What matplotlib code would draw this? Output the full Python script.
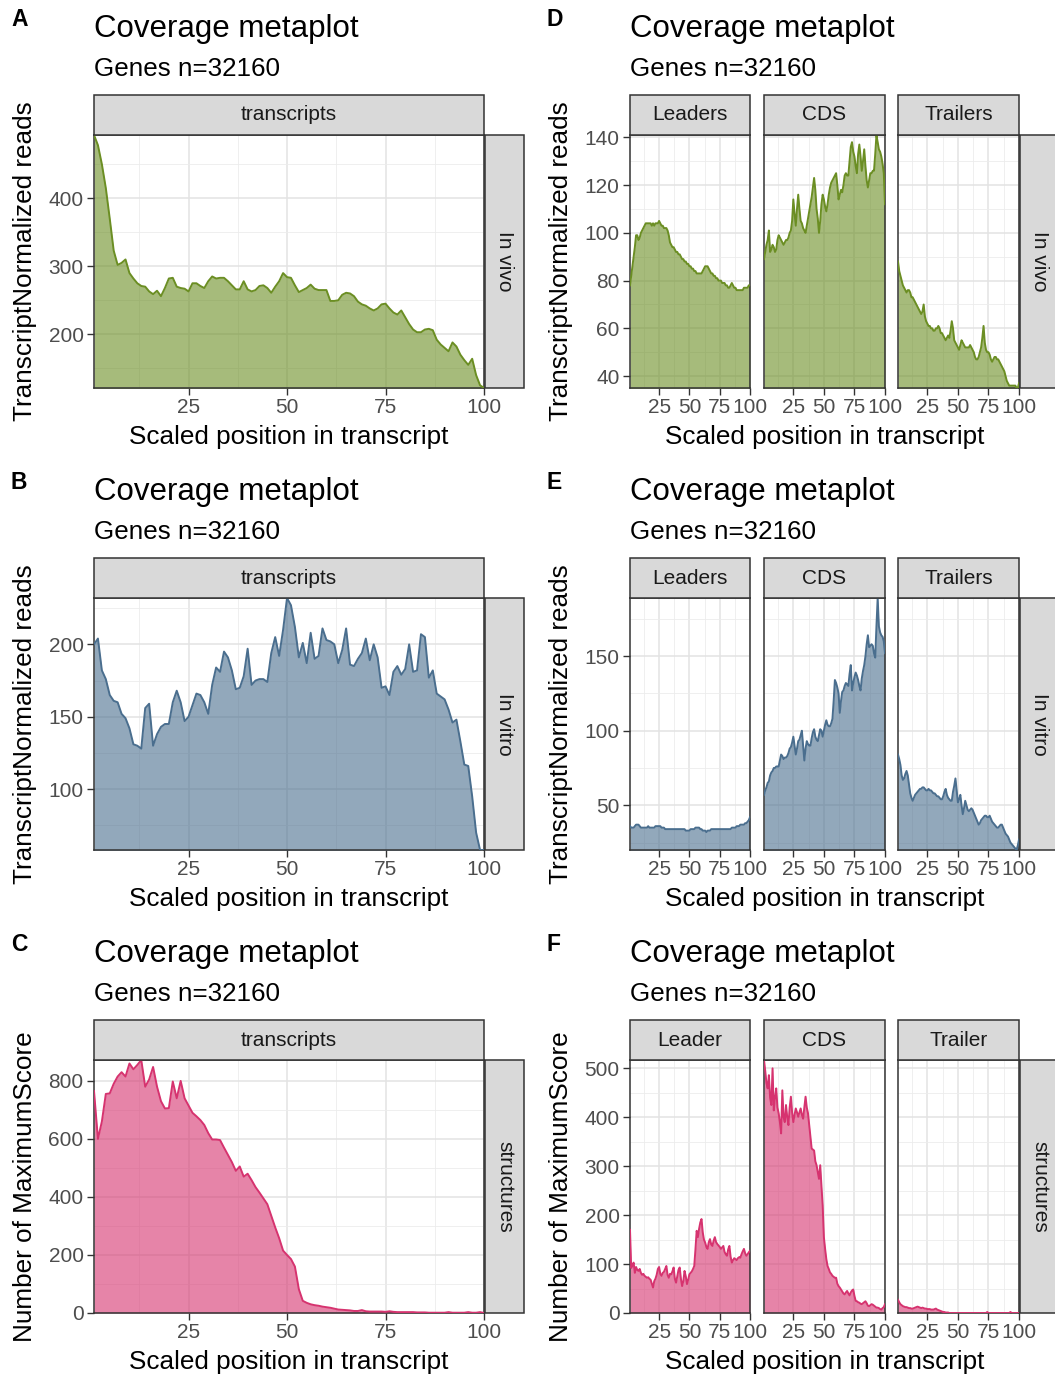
import matplotlib
matplotlib.use("Agg")
import matplotlib.pyplot as plt
from matplotlib.patches import Rectangle

plt.rcParams['font.family'] = ['Liberation Sans', 'DejaVu Sans']

# ---------------------------------------------------------------- data
positions = list(range(1, 101))

a_invivo_transcripts = [
    493, 478, 450, 415, 370, 323, 302, 305, 310, 290,
    282, 275, 271, 270, 263, 259, 264, 256, 268, 282,
    283, 270, 268, 267, 263, 275, 275, 271, 268, 278,
    285, 282, 283, 283, 278, 272, 266, 266, 278, 266,
    263, 265, 271, 272, 268, 261, 270, 278, 290, 284,
    283, 272, 262, 265, 268, 273, 267, 265, 265, 265,
    249, 249, 250, 258, 261, 260, 256, 248, 244, 242,
    238, 235, 238, 244, 245, 238, 232, 229, 235, 225,
    215, 207, 203, 203, 207, 208, 206, 192, 185, 180,
    175, 188, 182, 170, 162, 155, 164, 140, 125, 121]

b_invitro_transcripts = [
    200, 204, 182, 176, 165, 161, 160, 152, 149, 142,
    131, 130, 128, 156, 159, 130, 138, 143, 145, 145,
    160, 168, 160, 147, 150, 158, 166, 165, 160, 152,
    172, 184, 181, 195, 191, 182, 169, 170, 178, 197,
    172, 175, 176, 176, 174, 194, 205, 192, 210, 232,
    227, 212, 191, 201, 187, 208, 190, 192, 211, 203,
    202, 200, 187, 196, 211, 186, 185, 190, 194, 204,
    189, 200, 191, 170, 171, 165, 181, 185, 179, 183,
    200, 181, 182, 207, 205, 177, 182, 166, 164, 162,
    155, 146, 148, 133, 117, 116, 95, 70, 58, 58]

c_structures_transcripts = [
    765, 600, 660, 755, 757, 790, 815, 830, 815, 860,
    840, 855, 872, 780, 805, 848, 780, 730, 705, 706,
    798, 740, 800, 740, 715, 690, 678, 665, 648, 620,
    598, 598, 596, 570, 545, 520, 490, 505, 470, 480,
    458, 434, 415, 395, 375, 335, 295, 258, 215, 200,
    186, 160, 82, 42, 35, 30, 27, 25, 22, 20,
    18, 15, 12, 11, 10, 9, 7, 7, 10, 6,
    5, 5, 5, 5, 4, 6, 4, 3, 3, 3,
    3, 3, 2, 2, 2, 1, 1, 1, 1, 1,
    3, 1, 1, 1, 1, 3, 1, 1, 3, 0]

d_invivo_leaders = [
    78, 82, 86, 90, 94, 99, 99, 97, 98, 100,
    101, 102, 103, 104, 104, 104, 104, 104, 103, 104,
    103, 104, 104, 104, 105, 104, 103, 103, 102, 102,
    102, 101, 99, 96, 95, 94, 94, 93, 92, 92,
    91, 91, 90, 89, 89, 88, 88, 87, 87, 86,
    86, 85, 85, 84, 84, 83, 83, 83, 83, 83,
    84, 85, 86, 86, 86, 85, 84, 83, 83, 82,
    82, 81, 81, 80, 80, 80, 79, 79, 79, 78,
    78, 77, 77, 78, 79, 78, 77, 77, 76, 76,
    76, 76, 76, 76, 77, 77, 77, 77, 78, 78]

d_invivo_cds = [
    89, 92, 95, 97, 101, 92, 93, 95, 94, 92,
    93, 97, 99, 98, 97, 96, 95, 96, 97, 97,
    98, 100, 101, 105, 114, 108, 103, 110, 116, 110,
    105, 104, 102, 101, 100, 103, 106, 109, 112, 115,
    119, 123, 118, 110, 106, 100, 105, 112, 116, 114,
    111, 109, 112, 116, 119, 121, 122, 123, 124, 125,
    120, 114, 116, 118, 117, 120, 124, 125, 124, 124,
    130, 136, 138, 134, 132, 128, 125, 133, 137, 132,
    126, 130, 135, 128, 122, 119, 122, 125, 125, 126,
    126, 133, 141, 138, 135, 134, 132, 129, 125, 112]

d_invivo_trailers = [
    88, 84, 82, 80, 78, 77, 76, 75, 76, 76,
    75, 73, 73, 72, 71, 70, 69, 68, 67, 66,
    67, 70, 65, 63, 62, 61, 61, 60, 60, 59,
    59, 60, 60, 61, 60, 58, 58, 57, 56, 55,
    56, 57, 56, 59, 63, 60, 55, 54, 53, 52,
    51, 53, 55, 54, 53, 52, 52, 52, 52, 53,
    52, 51, 50, 48, 47, 47, 48, 50, 52, 56,
    61, 54, 51, 50, 50, 49, 47, 46, 47, 48,
    48, 47, 47, 46, 45, 44, 43, 42, 40, 38,
    37, 36, 36, 36, 36, 36, 36, 35, 35, 37]

e_invitro_leaders = [
    36, 35, 35, 35, 36, 37, 37, 37, 36, 35,
    35, 35, 35, 35, 35, 36, 35, 35, 35, 35,
    35, 36, 36, 36, 36, 36, 35, 35, 35, 34,
    34, 34, 34, 34, 34, 34, 34, 34, 34, 34,
    34, 34, 34, 34, 34, 34, 33, 33, 33, 33,
    34, 34, 34, 34, 35, 35, 35, 35, 34, 34,
    33, 33, 33, 32, 33, 33, 33, 34, 34, 34,
    34, 34, 34, 34, 34, 34, 34, 34, 34, 34,
    34, 34, 34, 34, 35, 35, 35, 35, 36, 36,
    36, 37, 37, 37, 37, 38, 38, 39, 40, 42]

e_invitro_cds = [
    57, 60, 62, 65, 66, 70, 72, 73, 75, 75,
    76, 76, 76, 80, 84, 83, 81, 82, 82, 83,
    85, 88, 89, 92, 96, 90, 84, 88, 93, 94,
    97, 100, 90, 80, 88, 93, 91, 90, 90, 95,
    99, 101, 96, 94, 93, 97, 101, 100, 96, 100,
    104, 107, 104, 103, 103, 105, 108, 120, 134, 132,
    129, 125, 112, 120, 126, 127, 130, 132, 131, 130,
    138, 144, 127, 132, 136, 139, 137, 134, 130, 127,
    135, 140, 144, 150, 158, 164, 156, 157, 158, 157,
    152, 149, 170, 189, 170, 166, 164, 163, 160, 152]

e_invitro_trailers = [
    84, 81, 77, 70, 67, 68, 71, 73, 70, 64,
    58, 55, 53, 55, 57, 58, 59, 60, 61, 61,
    62, 62, 61, 60, 60, 61, 60, 60, 59, 58,
    58, 57, 56, 56, 55, 54, 54, 56, 59, 61,
    57, 55, 54, 53, 53, 59, 63, 68, 60, 52,
    54, 57, 50, 44, 48, 53, 50, 47, 46, 47,
    48, 47, 45, 43, 41, 39, 37, 38, 40, 41,
    42, 43, 43, 42, 42, 43, 41, 39, 38, 37,
    36, 35, 35, 36, 37, 37, 35, 33, 31, 30,
    29, 27, 25, 24, 23, 22, 21, 20, 23, 27]

f_structures_leader = [
    170, 92, 98, 103, 82, 94, 88, 86, 90, 82,
    78, 80, 76, 74, 72, 73, 70, 68, 60, 52,
    65, 70, 78, 90, 94, 80, 76, 82, 84, 90,
    96, 78, 72, 80, 79, 85, 93, 70, 62, 75,
    88, 93, 70, 55, 65, 86, 75, 59, 68, 79,
    82, 85, 90, 96, 130, 168, 155, 172, 185, 192,
    165, 150, 144, 135, 131, 145, 151, 140, 137, 148,
    155, 145, 141, 138, 135, 131, 134, 137, 125, 120,
    117, 130, 137, 115, 103, 108, 112, 110, 108, 112,
    114, 113, 120, 126, 131, 122, 117, 120, 124, 127]

f_structures_cds = [
    517, 495, 470, 459, 486, 440, 425, 500, 414, 440,
    459, 420, 408, 390, 367, 455, 400, 390, 425, 400,
    384, 420, 442, 410, 390, 405, 418, 410, 401, 410,
    418, 405, 397, 420, 442, 420, 408, 384, 360, 336,
    334, 332, 310, 302, 288, 274, 302, 260, 220, 155,
    131, 110, 96, 90, 83, 80, 76, 74, 72, 72,
    60, 55, 52, 48, 44, 40, 38, 42, 45, 40,
    36, 42, 46, 48, 35, 25, 24, 22, 21, 19,
    18, 20, 22, 24, 20, 15, 14, 16, 18, 17,
    15, 13, 11, 11, 10, 8, 7, 10, 12, 18]

f_structures_trailer = [
    27, 22, 18, 16, 14, 13, 12, 12, 11, 10,
    10, 9, 9, 10, 11, 12, 13, 12, 11, 10,
    11, 10, 9, 9, 8, 8, 8, 7, 7, 7,
    8, 9, 7, 6, 5, 4, 3, 2, 2, 1,
    1, 1, 0, 0, 0, 0, 0, 0, 0, 0,
    0, 0, 0, 0, 0, 0, 0, 0, 0, 0,
    0, 0, 0, 0, 0, 0, 0, 0, 0, 0,
    0, 0, 0, 2, 0, 0, 0, 0, 0, 0,
    0, 0, 0, 0, 0, 0, 0, 0, 0, 0,
    0, 0, 2, 0, 0, 0, 0, 0, 0, 0]

x_ticks = [25, 50, 75, 100]
title_text = "Coverage metaplot"
subtitle_text = "Genes n=32160"
x_title = "Scaled position in transcript"

GREEN = "#6B8E23"
BLUE = "#4A6E8E"
PINK = "#D6336F"

# ---------------------------------------------------------------- layout
W, H = 1055, 1376
fig = plt.figure(figsize=(W / 100, H / 100), dpi=100)

DARK = "#333333"
STRIP_FILL = "#d9d9d9"
TICK_TXT = "#4d4d4d"


def fx(x):
    return x / W


def fy(y):
    return 1 - y / H


def add_box(x0, y0, x1, y1):
    fig.add_artist(Rectangle((fx(x0), fy(y1)), (x1 - x0) / W, (y1 - y0) / H,
                             transform=fig.transFigure, facecolor=STRIP_FILL,
                             edgecolor=DARK, lw=1.1, zorder=1))


def minor_between(ticks, lo, hi):
    step = ticks[1] - ticks[0]
    cand = [ticks[0] - step / 2] + [t + step / 2 for t in ticks]
    return [m for m in cand if lo <= m <= hi]


def draw_panel(letter, col_left, facet_boxes, facet_names, series, color,
               row_label, yticks, ylabel, plot_top, plot_bot):
    lo = min(min(s) for s in series)
    hi = max(max(s) for s in series)
    strip_top = plot_top - 40
    x_first = facet_boxes[0][0]
    x_last = facet_boxes[-1][1]

    for i, ((x0, x1), name, s) in enumerate(zip(facet_boxes, facet_names, series)):
        ax = fig.add_axes([fx(x0), fy(plot_bot), (x1 - x0) / W, (plot_bot - plot_top) / H])
        ax.fill_between(positions, s, 0, color=color, alpha=0.6, lw=0, zorder=2)
        ax.plot(positions, s, color=color, lw=1.4, zorder=3)
        ax.set_xlim(1, 100)
        ax.set_ylim(lo, hi)
        ax.set_xticks(x_ticks)
        ax.set_xticks([12.5, 37.5, 62.5, 87.5], minor=True)
        ax.set_yticks(yticks)
        ax.set_yticks(minor_between(yticks, lo, hi), minor=True)
        ax.grid(True, which='major', color='#e3e3e3', lw=1.1)
        ax.grid(True, which='minor', color='#ececec', lw=0.6)
        ax.set_axisbelow(True)
        ax.tick_params(which='minor', length=0)
        ax.tick_params(which='major', length=5, width=1.0, color=DARK,
                       labelcolor=TICK_TXT, labelsize=15, pad=2.5)
        if i > 0:
            ax.tick_params(axis='y', which='major', length=0, labelleft=False)
        for sp in ax.spines.values():
            sp.set_color(DARK)
            sp.set_linewidth(1.1)
        # facet strip on top
        add_box(x0, strip_top, x1, plot_top)
        fig.text(fx((x0 + x1) / 2), fy((strip_top + plot_top) / 2), name,
                 ha='center', va='center', fontsize=15, color='#1a1a1a')

    # row strip on the right
    add_box(x_last + 1, plot_top, x_last + 40, plot_bot)
    fig.text(fx(x_last + 20.5), fy((plot_top + plot_bot) / 2), row_label,
             ha='center', va='center', rotation=-90, fontsize=15, color='#1a1a1a')

    # titles
    fig.text(fx(col_left + 11), fy(plot_top - 109), letter, ha='left',
             va='baseline', fontsize=16.5, fontweight='bold', color='black')
    fig.text(fx(x_first), fy(plot_top - 98), title_text, ha='left',
             va='baseline', fontsize=22.5, color='black')
    fig.text(fx(x_first), fy(plot_top - 59), subtitle_text, ha='left',
             va='baseline', fontsize=18.7, color='black')
    fig.text(fx((x_first + x_last) / 2), fy(plot_bot + 56), x_title,
             ha='center', va='baseline', fontsize=18.8, color='black')
    fig.text(fx(col_left + 25), fy((plot_top + plot_bot) / 2), ylabel,
             ha='center', va='center', rotation=90, fontsize=18.8, color='black')


rows = [(135, 388), (598, 850), (1060, 1313)]
left_box = [(94, 484)]
right_boxes = [(630, 750), (764, 885), (898, 1019)]

draw_panel("A", 0, left_box, ["transcripts"], [a_invivo_transcripts], GREEN,
           "In vivo", [200, 300, 400], "TranscriptNormalized reads", *rows[0])
draw_panel("B", 0, left_box, ["transcripts"], [b_invitro_transcripts], BLUE,
           "In vitro", [100, 150, 200], "TranscriptNormalized reads", *rows[1])
draw_panel("C", 0, left_box, ["transcripts"], [c_structures_transcripts], PINK,
           "structures", [0, 200, 400, 600, 800], "Number of MaximumScore", *rows[2])

draw_panel("D", 536, right_boxes, ["Leaders", "CDS", "Trailers"],
           [d_invivo_leaders, d_invivo_cds, d_invivo_trailers], GREEN,
           "In vivo", [40, 60, 80, 100, 120, 140], "TranscriptNormalized reads", *rows[0])
draw_panel("E", 536, right_boxes, ["Leaders", "CDS", "Trailers"],
           [e_invitro_leaders, e_invitro_cds, e_invitro_trailers], BLUE,
           "In vitro", [50, 100, 150], "TranscriptNormalized reads", *rows[1])
draw_panel("F", 536, right_boxes, ["Leader", "CDS", "Trailer"],
           [f_structures_leader, f_structures_cds, f_structures_trailer], PINK,
           "structures", [0, 100, 200, 300, 400, 500], "Number of MaximumScore", *rows[2])

fig.savefig("out.png", dpi=100, facecolor="white")
